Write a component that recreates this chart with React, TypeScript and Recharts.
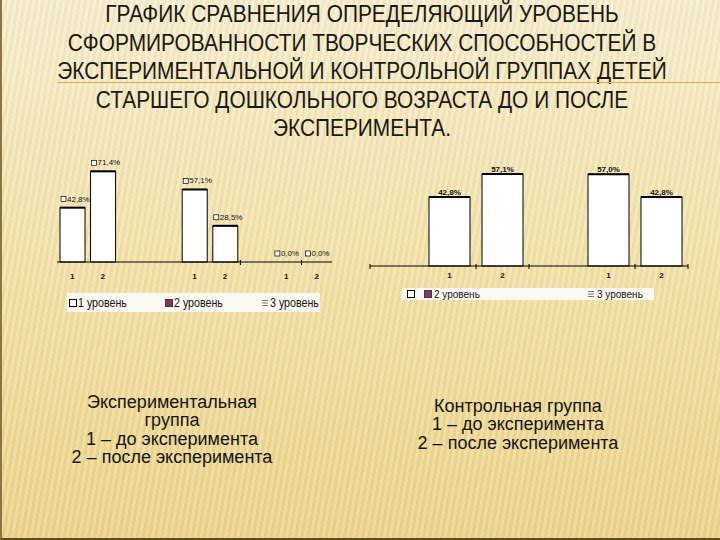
import React from 'react';
import { BarChart, Bar, XAxis, YAxis, LabelList } from 'recharts';

const titleLines = [
  'ГРАФИК СРАВНЕНИЯ ОПРЕДЕЛЯЮЩИЙ УРОВЕНЬ',
  'СФОРМИРОВАННОСТИ ТВОРЧЕСКИХ СПОСОБНОСТЕЙ В',
  'ЭКСПЕРИМЕНТАЛЬНОЙ И КОНТРОЛЬНОЙ ГРУППАХ ДЕТЕЙ',
  'СТАРШЕГО ДОШКОЛЬНОГО ВОЗРАСТА ДО И ПОСЛЕ',
  'ЭКСПЕРИМЕНТА.',
];

const levels = ['1 уровень', '2 уровень', '3 уровень'];
const stages = ['1', '2'];

// экспериментальная группа, по уровням
const expBefore = [42.8, 57.1, 0.0];
const expAfter = [71.4, 28.5, 0.0];

// контрольная группа
const ctrlBefore = [42.8, 57.0];
const ctrlAfter = [57.1, 42.8];
const ctrlLegend = ['', '2 уровень', '3 уровень'];

const expNotes = ['Экспериментальная', 'группа', '1 – до эксперимента', '2 – после эксперимента'];
const ctrlNotes = ['Контрольная группа', '1 – до эксперимента', '2 – после эксперимента'];

type Row = { key: string; label: string; value: number | null };

// empty slots placed before each pair of bars, as on the original axis
const buildRows = (before: number[], after: number[], gaps: number[]): Row[] => {
  const rows: Row[] = [];
  before.forEach((b, i) => {
    for (let g = 0; g < gaps[i]; g++) rows.push({ key: `g${i}_${g}`, label: '', value: null });
    rows.push({ key: `b${i}`, label: stages[0], value: b });
    rows.push({ key: `a${i}`, label: stages[1], value: after[i] });
  });
  return rows;
};

const expRows = buildRows(expBefore, expAfter, [0, 2, 1]);
const ctrlRows = buildRows(ctrlBefore, ctrlAfter, [1, 1]);

const fmt = (v: number) => v.toFixed(1).replace('.', ',') + '%';
const FONT = "'Liberation Sans', Arial, sans-serif";

const BarShape = (props: any) => {
  const { x, y, width, height } = props;
  if (!height || height <= 0) return null;
  return (
    <g>
      <rect x={x} y={y} width={width} height={height} fill="#fff" stroke="#000" strokeWidth={1} />
      <line x1={x} x2={x + width} y1={y} y2={y} stroke="#000" strokeWidth={2} />
    </g>
  );
};

const makeTick = (rows: Row[], slot: number, edges: number[], dy: number) => (props: any) => {
  const { x, y, index } = props;
  const n = rows.length;
  return (
    <g>
      <text x={x} y={y + dy} textAnchor="middle" fontSize={8} fontWeight="bold" fill="#111" fontFamily={FONT}>
        {rows[index] ? rows[index].label : ''}
      </text>
      {edges.includes(index) && (
        <line x1={x - slot / 2} x2={x - slot / 2} y1={y - 2} y2={y + 3} stroke="#000" />
      )}
      {index === n - 1 && edges.includes(n) && (
        <line x1={x + slot / 2} x2={x + slot / 2} y1={y - 2} y2={y + 3} stroke="#000" />
      )}
    </g>
  );
};

const expLabel = (p: any) => {
  const { x, y, value } = p;
  if (value == null) return null;
  return (
    <g>
      <rect x={x + 1} y={y - 11} width={5} height={5} fill="#fff" stroke="#000" strokeWidth={0.7} />
      <text x={x + 7} y={y - 6} fontSize={8} fill="#111" fontFamily={FONT}>
        {fmt(value)}
      </text>
    </g>
  );
};

const ctrlLabel = (p: any) => {
  const { x, y, width, value } = p;
  if (value == null) return null;
  return (
    <text x={x + width / 2} y={y - 2} textAnchor="middle" fontSize={8} fontWeight="bold" fill="#111" fontFamily={FONT}>
      {fmt(value)}
    </text>
  );
};

const LegendIcon = ({ i }: { i: number }) => {
  if (i === 0) return <rect x={0.5} y={0.5} width={7} height={7} fill="#fff" stroke="#000" />;
  if (i === 1) return <rect x={0.5} y={0.5} width={7} height={7} fill="#7a3c5c" stroke="#5a2a44" />;
  return (
    <g stroke="#777" strokeWidth={1}>
      <line x1={1} x2={7} y1={1.5} y2={1.5} />
      <line x1={1} x2={7} y1={4} y2={4} />
      <line x1={1} x2={7} y1={6.5} y2={6.5} />
    </g>
  );
};

const App = () => {
  return (
    <div
      style={{
        position: 'absolute',
        left: 0,
        top: 0,
        width: 720,
        height: 540,
        overflow: 'hidden',
        fontFamily: FONT,
        background:
          'repeating-linear-gradient(100deg, rgba(255,255,255,0.15) 0px, rgba(255,255,255,0.15) 3px, rgba(160,120,30,0.06) 3px, rgba(160,120,30,0.06) 6px), linear-gradient(180deg, #f7eece 0%, #f3e3ac 45%, #ecd48a 100%)',
        borderLeft: '2px solid #8a7440',
        borderBottom: '2px solid #5e4c22',
        boxSizing: 'border-box',
      }}
    >
      <div
        style={{
          position: 'absolute',
          left: 0,
          top: 0,
          width: 720,
          textAlign: 'center',
          fontSize: 24,
          lineHeight: '28.5px',
          color: '#1c1813',
        }}
      >
        {titleLines.map((t) => (
          <div key={t} style={{ whiteSpace: 'nowrap', transform: 'scaleX(0.87)' }}>
            {t}
          </div>
        ))}
      </div>
      <div style={{ position: 'absolute', left: 55, top: 82, width: 665, height: 1, background: '#d8ad5c' }} />

      {/* экспериментальная группа */}
      <div style={{ position: 'absolute', left: 40, top: 120 }}>
        <BarChart width={300} height={200} data={expRows} margin={{ top: 15, right: 10, bottom: 38, left: 15 }}>
          <YAxis hide domain={[0, 100]} type="number" />
          <XAxis
            dataKey="key"
            interval={0}
            height={20}
            tickLine={false}
            tickSize={0}
            tickMargin={0}
            axisLine={{ stroke: '#000' }}
            tick={makeTick(expRows, 30.5, [6, 8], 17)}
          />
          <Bar dataKey="value" barSize={25} isAnimationActive={false} shape={BarShape}>
            <LabelList dataKey="value" content={expLabel} />
          </Bar>
        </BarChart>
      </div>
      <div
        style={{
          position: 'absolute',
          left: 65,
          top: 293,
          width: 253,
          height: 19,
          background: '#fcfaf2',
          fontSize: 13,
          color: '#111',
        }}
      >
        {levels.map((l, i) => (
          <div
            key={l}
            style={{ position: 'absolute', left: 2 + i * 96, top: 1, height: 17, display: 'flex', alignItems: 'center', whiteSpace: 'nowrap' }}
          >
            <svg width={8} height={8} style={{ marginRight: 1 }}>
              <LegendIcon i={i} />
            </svg>
            <span style={{ display: 'inline-block', transform: 'scaleX(0.82)', transformOrigin: 'left center' }}>{l}</span>
          </div>
        ))}
      </div>

      {/* контрольная группа */}
      <div style={{ position: 'absolute', left: 350, top: 90 }}>
        <BarChart width={350} height={200} data={ctrlRows} margin={{ top: 15, right: 14, bottom: 4, left: 18 }}>
          <YAxis hide domain={[0, 100]} type="number" />
          <XAxis
            dataKey="key"
            interval={0}
            height={20}
            tickLine={false}
            tickSize={0}
            tickMargin={0}
            axisLine={{ stroke: '#000' }}
            tick={makeTick(ctrlRows, 53, [0, 2, 3, 5, 6], 12)}
          />
          <Bar dataKey="value" barSize={41} isAnimationActive={false} shape={BarShape}>
            <LabelList dataKey="value" content={ctrlLabel} />
          </Bar>
        </BarChart>
      </div>
      <div
        style={{
          position: 'absolute',
          left: 400,
          top: 288,
          width: 252,
          height: 12,
          background: '#fcfaf2',
          fontSize: 10,
          color: '#111',
        }}
      >
        {ctrlLegend.map((l, i) => (
          <div
            key={i}
            style={{ position: 'absolute', left: [5, 22, 185][i], top: 0, height: 12, display: 'flex', alignItems: 'center', whiteSpace: 'nowrap' }}
          >
            <svg width={8} height={8} style={{ marginRight: 2 }}>
              <LegendIcon i={i} />
            </svg>
            <span>{l}</span>
          </div>
        ))}
      </div>

      <div
        style={{
          position: 'absolute',
          left: 20,
          top: 393,
          width: 300,
          textAlign: 'center',
          fontSize: 18,
          lineHeight: '18.3px',
          color: '#151515',
          whiteSpace: 'nowrap',
        }}
      >
        {expNotes.map((t) => (
          <div key={t}>{t}</div>
        ))}
      </div>
      <div
        style={{
          position: 'absolute',
          left: 366,
          top: 397,
          width: 300,
          textAlign: 'center',
          fontSize: 18,
          lineHeight: '18.3px',
          color: '#151515',
          whiteSpace: 'nowrap',
        }}
      >
        {ctrlNotes.map((t) => (
          <div key={t}>{t}</div>
        ))}
      </div>
    </div>
  );
};

export default App;
